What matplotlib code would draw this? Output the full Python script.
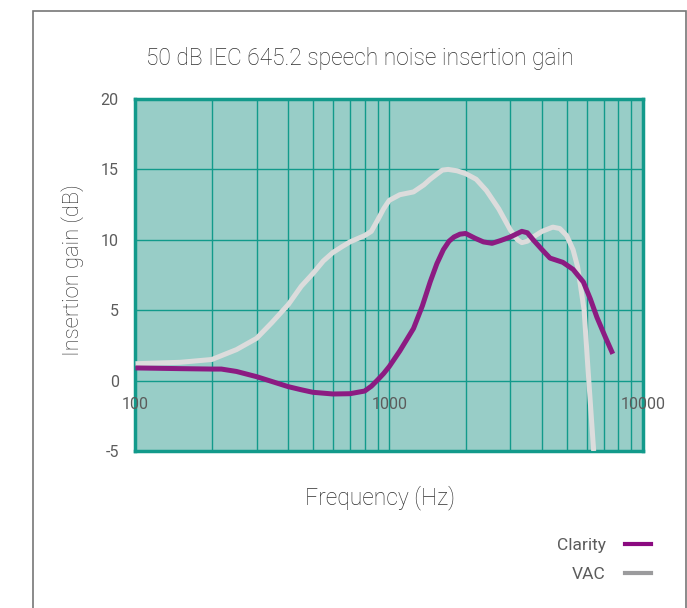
import matplotlib
matplotlib.use("Agg")
import matplotlib.pyplot as plt
from matplotlib.lines import Line2D
from matplotlib.patches import Rectangle

plt.rcParams['font.family'] = ['Roboto', 'DejaVu Sans']

# data (frequency in Hz, insertion gain in dB)
vac_freq = [100, 150, 200, 250, 300, 344, 400, 450, 500, 550, 600, 650, 700,
            800, 850, 900, 950, 1000, 1100, 1246, 1369, 1450, 1550, 1620, 1706,
            1850, 2000, 2200, 2414, 2700, 3000, 3200, 3330, 3500, 3690, 4000,
            4410, 4700, 5000, 5300, 5520, 5630, 5860, 6060, 6250, 6390]
vac_gain = [1.2, 1.3, 1.5, 2.2, 3.0, 4.1, 5.4, 6.7, 7.6, 8.5, 9.1, 9.5, 9.85,
            10.3, 10.6, 11.4, 12.2, 12.8, 13.2, 13.4, 13.9, 14.3, 14.7, 14.95,
            15.0, 14.9, 14.7, 14.3, 13.5, 12.2, 10.7, 10.0, 9.8, 9.9, 10.2,
            10.6, 10.9, 10.8, 10.3, 9.3, 8.1, 7.1, 5.0, 1.0, -2.5, -5.0]

clarity_freq = [100, 150, 200, 218, 250, 300, 350, 400, 450, 500, 600, 700,
                800, 850, 900, 950, 1000, 1100, 1246, 1350, 1449, 1540, 1634,
                1720, 1800, 1900, 2000, 2185, 2350, 2542, 2750, 3000, 3330,
                3500, 3690, 4000, 4300, 4830, 5300, 5820, 6200, 6580, 7100, 7600]
clarity_gain = [0.9, 0.85, 0.82, 0.82, 0.65, 0.28, -0.1, -0.43, -0.65, -0.83,
                -0.95, -0.93, -0.74, -0.4, 0.05, 0.5, 1.0, 2.1, 3.7, 5.3, 7.0,
                8.3, 9.3, 9.9, 10.2, 10.4, 10.45, 10.1, 9.85, 9.75, 9.95, 10.2,
                10.6, 10.5, 10.0, 9.3, 8.7, 8.4, 7.9, 7.0, 5.8, 4.5, 3.1, 1.9]

x_ticks = [100, 1000, 10000]
y_ticks = [-5, 0, 5, 10, 15, 20]

teal_bg = '#98cdc7'
teal_line = '#129a8b'
purple = '#8c1b82'
light_grey = '#dcdcdc'
text_grey = '#5c5c5c'
label_grey = '#2e2e2e'

fig = plt.figure(figsize=(6.87, 6.08), dpi=100)
ax = fig.add_axes([0.1972, 0.2582, 0.7388, 0.579])

ax.set_facecolor(teal_bg)
ax.set_xscale('log')
ax.set_xlim(100, 10000)
ax.set_ylim(-5, 20)

ax.plot(vac_freq, vac_gain, color=light_grey, lw=3.6, solid_capstyle='butt',
        solid_joinstyle='round', zorder=3)
ax.plot(clarity_freq, clarity_gain, color=purple, lw=3.6, solid_capstyle='butt',
        solid_joinstyle='round', zorder=4)

# grid: major + minor log lines, horizontal every 5 dB
ax.set_yticks(y_ticks)
ax.set_yticklabels([str(v) for v in y_ticks], color=text_grey, fontsize=11.5)
ax.tick_params(axis='y', length=0, pad=12)
ax.tick_params(axis='x', which='both', length=0, labelbottom=False)
ax.grid(True, which='both', axis='x', color=teal_line, lw=1.0, zorder=1)
ax.grid(True, which='major', axis='y', color=teal_line, lw=1.0, zorder=1)
ax.set_axisbelow(True)
for s in ax.spines.values():
    s.set_color(teal_line)
    s.set_linewidth(2.5)

# x tick labels sit just under the 0 dB line
for xt in x_ticks:
    ax.text(xt, -1.7, str(xt), ha='center', va='center', color=text_grey,
            fontsize=11.5, zorder=5)

fig.text(0.524, 0.903, '50 dB IEC 645.2 speech noise insertion gain',
         ha='center', va='center', fontsize=16.4, color=label_grey, fontweight='light')
fig.text(0.106, 0.556, 'Insertion gain (dB)', rotation=90, ha='center',
         va='center', fontsize=15.8, color=label_grey, fontweight='light')
fig.text(0.553, 0.181, 'Frequency (Hz)', ha='center', va='center',
         fontsize=16.5, color=label_grey, fontweight='light')

handles = [Line2D([], [], color='#8b0a80', lw=3.0),
           Line2D([], [], color='#9b9b9d', lw=3.0)]
fig.legend(handles, ['Clarity', 'VAC'], loc='upper right',
           bbox_to_anchor=(0.9476, 0.115), frameon=False, markerfirst=False,
           borderpad=0, borderaxespad=0,
           handlelength=1.5, handletextpad=1.1, labelspacing=0.8,
           labelcolor=text_grey, prop={'size': 12.5})

# outer frame, its bottom edge is below the image
fig.add_artist(Rectangle((0.0475, -0.05), 0.951, 1.032, transform=fig.transFigure,
                         fill=False, edgecolor='#777777', lw=1.2))

fig.savefig('out.png', dpi=100)
